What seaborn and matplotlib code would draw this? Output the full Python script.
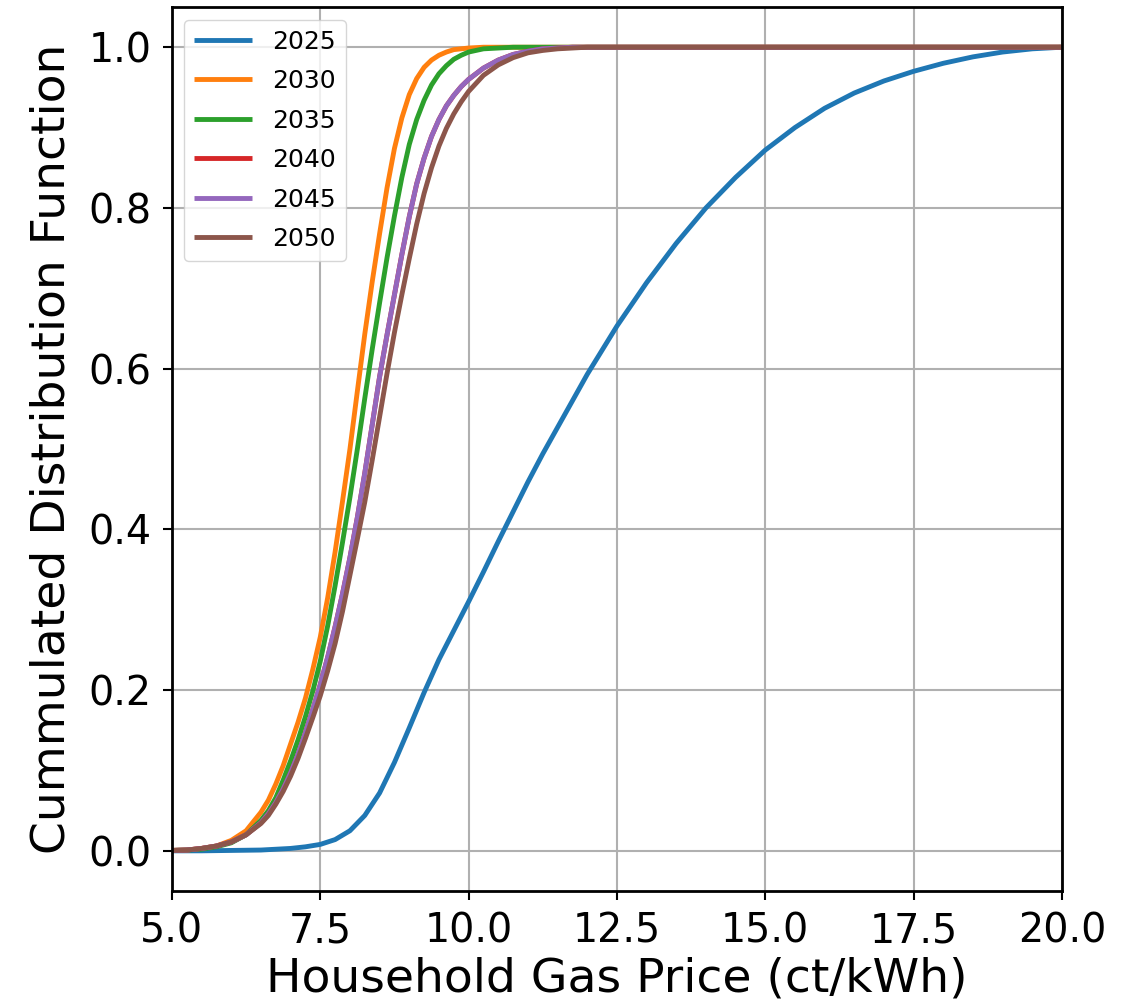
import numpy as np
import pandas as pd
import matplotlib
matplotlib.use("Agg")
import matplotlib.pyplot as plt
import seaborn as sns

# Price grid (ct/kWh) used for the 2025 curve
price_2025 = [5.0, 5.5, 6.0, 6.5, 7.0, 7.25, 7.5, 7.75, 8.0, 8.25, 8.5, 8.75,
              9.0, 9.25, 9.5, 9.75, 10.0, 10.25, 10.5, 10.75, 11.0, 11.25,
              11.5, 11.75, 12.0, 12.5, 13.0, 13.5, 14.0, 14.5, 15.0, 15.5,
              16.0, 16.5, 17.0, 17.5, 18.0, 18.5, 19.0, 19.5, 20.0]
cdf_2025 = [0.0, 0.0, 0.0005, 0.001, 0.003, 0.005, 0.008, 0.014, 0.025, 0.044,
            0.072, 0.11, 0.153, 0.197, 0.238, 0.274, 0.31, 0.347, 0.385,
            0.422, 0.459, 0.494, 0.527, 0.56, 0.593, 0.653, 0.707, 0.756,
            0.80, 0.838, 0.872, 0.90, 0.924, 0.943, 0.958, 0.970, 0.980,
            0.988, 0.994, 0.998, 1.0]

# Price grid (ct/kWh) shared by the later years
price_later = ([5.0, 5.25, 5.5, 5.75, 6.0, 6.25]
               + [6.5, 6.625, 6.75, 6.875, 7.0, 7.125, 7.25, 7.375, 7.5, 7.625,
                  7.75, 7.875, 8.0, 8.125, 8.25, 8.375, 8.5, 8.625, 8.75, 8.875,
                  9.0, 9.125, 9.25, 9.375, 9.5, 9.625, 9.75, 9.875, 10.0]
               + [10.25, 10.5, 10.75, 11.0, 11.25, 11.5, 11.75, 12.0, 20.0])
cdf_2030 = ([0.0005, 0.001, 0.003, 0.006, 0.013, 0.025]
            + [0.048, 0.063, 0.083, 0.106, 0.133, 0.16, 0.19, 0.226, 0.266,
               0.315, 0.372, 0.435, 0.50, 0.572, 0.643, 0.708, 0.768, 0.825,
               0.874, 0.912, 0.941, 0.961, 0.975, 0.984, 0.99, 0.994, 0.997,
               0.998, 0.999]
            + [1.0, 1.0, 1.0, 1.0, 1.0, 1.0, 1.0, 1.0, 1.0])
cdf_2035 = ([0.0005, 0.001, 0.002, 0.005, 0.01, 0.02]
            + [0.038, 0.05, 0.066, 0.088, 0.112, 0.138, 0.167, 0.199, 0.236,
               0.28, 0.33, 0.384, 0.44, 0.50, 0.563, 0.624, 0.682, 0.738,
               0.79, 0.838, 0.879, 0.91, 0.934, 0.953, 0.967, 0.977, 0.985,
               0.99, 0.994]
            + [0.998, 0.999, 1.0, 1.0, 1.0, 1.0, 1.0, 1.0, 1.0])
cdf_2040 = ([0.0005, 0.001, 0.003, 0.006, 0.011, 0.02]
            + [0.035, 0.046, 0.06, 0.077, 0.097, 0.12, 0.147, 0.176, 0.207,
               0.241, 0.279, 0.32, 0.365, 0.415, 0.47, 0.53, 0.59, 0.642,
               0.692, 0.742, 0.789, 0.83, 0.862, 0.889, 0.91, 0.927, 0.94,
               0.951, 0.96]
            + [0.974, 0.984, 0.991, 0.995, 0.998, 0.999, 1.0, 1.0, 1.0])
cdf_2045 = ([0.0005, 0.001, 0.003, 0.006, 0.011, 0.02]
            + [0.035, 0.046, 0.06, 0.077, 0.097, 0.12, 0.147, 0.176, 0.207,
               0.241, 0.279, 0.32, 0.365, 0.415, 0.47, 0.53, 0.59, 0.642,
               0.692, 0.742, 0.789, 0.83, 0.862, 0.889, 0.91, 0.927, 0.94,
               0.951, 0.96]
            + [0.974, 0.984, 0.991, 0.995, 0.998, 0.999, 1.0, 1.0, 1.0])
cdf_2050 = ([0.0005, 0.001, 0.003, 0.006, 0.011, 0.02]
            + [0.034, 0.044, 0.058, 0.074, 0.093, 0.115, 0.14, 0.166, 0.193,
               0.224, 0.258, 0.298, 0.343, 0.388, 0.434, 0.486, 0.54, 0.594,
               0.645, 0.692, 0.737, 0.78, 0.818, 0.85, 0.877, 0.899, 0.917,
               0.932, 0.945]
            + [0.965, 0.978, 0.987, 0.993, 0.996, 0.998, 0.999, 1.0, 1.0])

years = ["2025", "2030", "2035", "2040", "2045", "2050"]
x_ticks = [5.0, 7.5, 10.0, 12.5, 15.0, 17.5, 20.0]
y_ticks = [0.0, 0.2, 0.4, 0.6, 0.8, 1.0]

series = {
    "2025": (price_2025, cdf_2025),
    "2030": (price_later, cdf_2030),
    "2035": (price_later, cdf_2035),
    "2040": (price_later, cdf_2040),
    "2045": (price_later, cdf_2045),
    "2050": (price_later, cdf_2050),
}
frames = [pd.DataFrame({"price": xs, "cdf": ys, "year": yr})
          for yr, (xs, ys) in series.items()]
df = pd.concat(frames, ignore_index=True)

palette = dict(zip(years, sns.color_palette("tab10", 6)))

fig = plt.figure(figsize=(11.35, 10.06), dpi=100)
ax = fig.add_axes([0.1515, 0.1143, 0.7841, 0.8787])

sns.lineplot(data=df, x="price", y="cdf", hue="year", hue_order=years,
             palette=palette, linewidth=3.5, legend=False, ax=ax,
             estimator=None, sort=True)

for line, yr in zip(ax.get_lines(), years):
    line.set_label(yr)
    line.set_solid_joinstyle("round")
    line.set_solid_capstyle("butt")

ax.set_xlim(5, 20)
ax.set_ylim(-0.05, 1.05)
ax.set_xticks(x_ticks)
ax.set_yticks(y_ticks)
ax.set_xticklabels([f"{v:.1f}" for v in x_ticks])
ax.set_yticklabels([f"{v:.1f}" for v in y_ticks])
ax.tick_params(axis="both", labelsize=28.5, length=6.5, width=1.5, pad=8)
ax.set_xlabel("Household Gas Price (ct/kWh)", fontsize=34, labelpad=4)
ax.set_ylabel("Cummulated Distribution Function", fontsize=34, labelpad=10)
ax.grid(True, color="#b0b0b0", linewidth=1.5)
ax.set_axisbelow(True)
for sp in ax.spines.values():
    sp.set_linewidth(2.0)
    sp.set_color("black")

ax.legend(loc="upper left", fontsize=18, handlelength=2.3, labelspacing=0.62,
          framealpha=0.8)

fig.savefig("out.png", dpi=100)
